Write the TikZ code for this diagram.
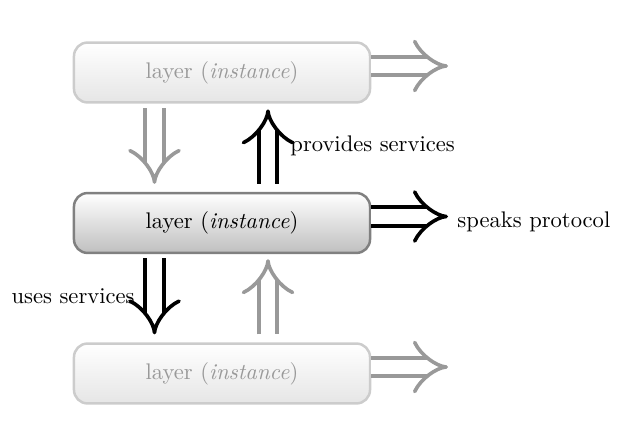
\documentclass[tikz,border=0pt]{standalone}
\usetikzlibrary{arrows.meta}
\begin{document}
\begin{tikzpicture}[x=0.4425pt,y=-0.4425pt,
  layerbox/.style={draw, rounded corners=6pt, minimum width=131pt, minimum height=26.5pt, line width=1.1pt, inner sep=0pt},
  activebox/.style={layerbox, draw=gray, top color=white, bottom color=gray!50, text=black},
  fadedbox/.style={layerbox, draw=gray!40, top color=white, bottom color=gray!20, text=gray!80},
  dblarrow/.style={double, double distance=6.6pt, line width=1.6pt, -{Implies[length=14pt,width=23pt]}},
  activearrow/.style={dblarrow, draw=black},
  fadedarrow/.style={dblarrow, draw=gray!80},
  lbl/.style={inner sep=0pt}
]
\useasboundingbox (0,0) rectangle (622,436);
\node[fadedbox] (top) at (222,72.5) {layer (\textit{instance})};
\node[activebox] (mid) at (222,223) {layer (\textit{instance})};
\node[fadedbox] (bot) at (222,373.5) {layer (\textit{instance})};
\coordinate (dx) at (154.5,0);
\coordinate (ux) at (268,0);
\coordinate (tr) at (448,66);
\coordinate (mr) at (448,216.5);
\coordinate (br) at (448,367);
\draw[fadedarrow, shorten <=2pt, shorten >=3.5pt] (top.south -| dx) -- (mid.north -| dx);
\draw[activearrow, shorten <=3.5pt, shorten >=2.5pt] (mid.north -| ux) -- (top.south -| ux);
\draw[activearrow, shorten <=1.8pt, shorten >=3.5pt] (mid.south -| dx) -- (bot.north -| dx);
\draw[fadedarrow, shorten <=3.5pt, shorten >=2.2pt] (bot.north -| ux) -- (mid.south -| ux);
\draw[fadedarrow] (top.east |- tr) -- (tr);
\draw[activearrow] (mid.east |- mr) -- (mr);
\draw[fadedarrow] (bot.east |- br) -- (br);
\node[lbl, anchor=base west] (ps) at (290,152) {provides services};
\node[lbl, anchor=base west] (sp) at (457,227) {speaks protocol};
\node[lbl, anchor=base east] (us) at (135,303) {uses services};
\end{tikzpicture}
\end{document}
